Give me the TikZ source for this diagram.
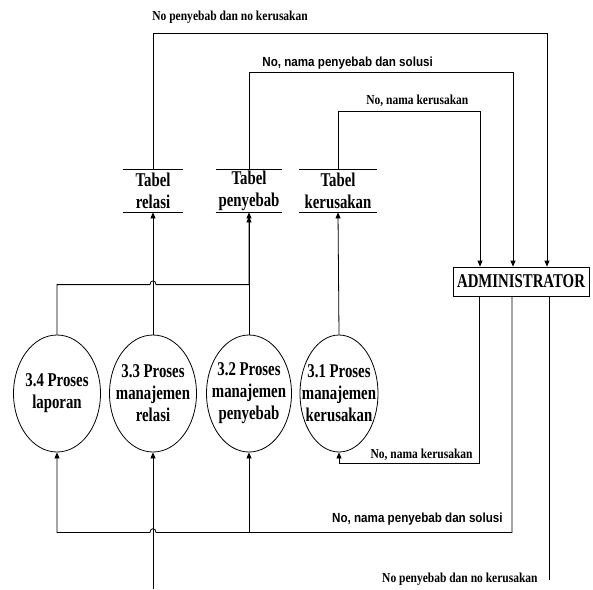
\documentclass[tikz,border=0pt]{standalone}
\usepackage{fontspec}
\setmainfont{Liberation Serif}
\newfontfamily\tnrbig[FakeStretch=0.76]{Liberation Serif}
\newfontfamily\tnrsm[FakeStretch=0.84]{Liberation Serif}
\newfontfamily\arism[FakeStretch=0.88]{Liberation Sans}
\usetikzlibrary{arrows.meta,shapes.geometric,calc}
\begin{document}
\begin{tikzpicture}[x=1pt,y=-1pt,line width=0.8pt,
  flow/.style={-{Triangle[length=6pt,width=5pt]}},
  bigtext/.style={font=\tnrbig\bfseries\fontsize{19.5}{22}\selectfont,align=center},
  smlabel/.style={font=\tnrsm\bfseries\fontsize{13.7}{16}\selectfont,inner sep=0pt},
  arlabel/.style={font=\arism\bfseries\fontsize{13.2}{16}\selectfont,inner sep=0pt},
  proc/.style={ellipse,draw,inner sep=0pt,minimum height=117pt},
  store/.style={bigtext,inner sep=0pt,minimum height=42pt},
  entity/.style={draw,bigtext,inner sep=0pt,minimum width=136pt,minimum height=29pt}]
\fill[white] (0,0) rectangle (593,589);
\useasboundingbox (0,0) rectangle (593,589);

% data stores
\node[store,minimum width=60pt] (srel) at (153,191) {Tabel\\relasi};
\node[store,minimum width=66pt] (spen) at (249,191) {Tabel\\penyebab};
\node[store,minimum width=77pt] (sker) at (338,191) {Tabel\\kerusakan};
\foreach \s in {srel,spen,sker}{
  \draw (\s.north west) -- (\s.north east);
  \draw (\s.south west) -- (\s.south east);
}

% processes
\node[proc,minimum width=87pt,label={[bigtext]center:{3.4 Proses\\laporan}}] (e34) at (57,393.5) {};
\node[proc,minimum width=87pt,label={[bigtext]center:{3.3 Proses\\manajemen\\relasi}}] (e33) at (153,393.5) {};
\node[proc,minimum width=85pt,label={[bigtext]center:{3.2 Proses\\manajemen\\penyebab}}] (e32) at (249,393.5) {};
\node[proc,minimum width=78pt,label={[bigtext]center:{3.1 Proses\\manajemen\\kerusakan}}] (e31) at (339,393.5) {};

% external entity
\node[entity] (admin) at (521,281.5) {ADMINISTRATOR};

% labels
\node[smlabel,anchor=base west] (t1) at (152,20) {No penyebab dan no kerusakan};
\node[arlabel,anchor=base west] (t2) at (262,66) {No, nama penyebab dan solusi};
\node[smlabel,anchor=base west] (t3) at (366,104) {No, nama kerusakan};
\node[smlabel,anchor=base east] (b1) at (473,458) {No, nama kerusakan};
\node[arlabel,anchor=base east] (b2) at (503,522) {No, nama penyebab dan solusi};
\node[smlabel,anchor=base east] (b3) at (538,582) {No penyebab dan no kerusakan};

% stores -> administrator
\draw[flow] (srel.north) -- (srel.north |- 0,33) -| ([xshift=26pt]admin.north);
\draw[flow] (spen.north) -- (spen.north |- 0,72) -| ([xshift=-8pt]admin.north);
\draw[flow] (sker.north) -- (sker.north |- 0,111) -| ([xshift=-41pt]admin.north);

% processes -> stores
\draw[flow] (e33.north) -- (srel.south);
\draw[flow] (e31.north) -- (sker.south);
\draw[flow] (e32.north) -- ([yshift=-4pt]spen.south);
\draw[flow] (e34.north) -- ++(0,-50) coordinate (h1)
  -- ($(e33.north |- h1)+(-3,0)$) .. controls +(0,-5) and +(0,-5) .. ($(e33.north |- h1)+(3,0)$)
  -- (e32.north |- h1) -- (spen.south);

% administrator -> processes
\draw[flow] ([xshift=-42pt]admin.south) -- ++(0,167) -| (e31.south);
\draw[flow] ([xshift=-9pt]admin.south) -- ++(0,236) coordinate (c1)
  -- ($(e33.south |- c1)+(3,0)$) .. controls +(0,-5) and +(0,-5) .. ($(e33.south |- c1)+(-3,0)$)
  -| (e34.south);
\draw[flow] (e32.south |- c1) -- (e32.south);
\coordinate (in33) at (153,589);
\draw[flow] (in33) -- (e33.south);
\draw ([xshift=28pt]admin.south) -- ++(0,284) coordinate (out3);
\end{tikzpicture}
\end{document}
